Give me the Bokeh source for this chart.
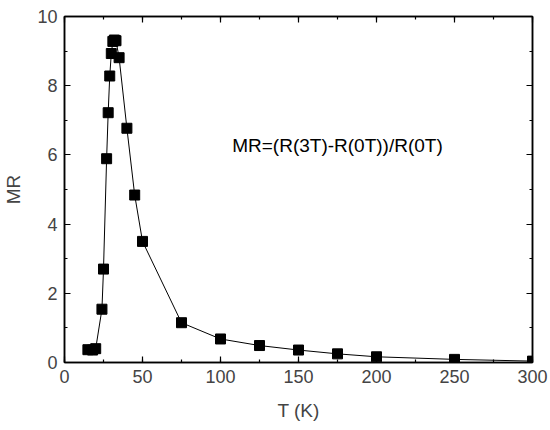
from bokeh.plotting import figure
from bokeh.models import LinearAxis, Range1d, Label, CustomLabelingPolicy
from bokeh.embed import file_html
from bokeh.resources import INLINE

T = [15, 18, 20, 24, 25, 27, 28, 29, 30, 31, 32, 33, 35, 40, 45, 50, 75, 100, 125, 150, 175, 200, 250, 300]
MR = [0.37, 0.36, 0.40, 1.54, 2.70, 5.89, 7.22, 8.28, 8.93, 9.28, 9.32, 9.30, 8.81, 6.77, 4.84, 3.50, 1.15, 0.68, 0.49, 0.36, 0.25, 0.165, 0.09, 0.04]

FONT = "Liberation Sans"

p = figure(frame_width=468, frame_height=346, output_backend="svg", toolbar_location=None,
           x_range=Range1d(0, 300), y_range=Range1d(0, 10),
           min_border_left=64, min_border_right=18, min_border_top=16, min_border_bottom=68,
           x_axis_label="T (K)", y_axis_label="MR")
p.grid.visible = False
p.outline_line_color = "black"
p.outline_line_width = 1.5
p.background_fill_color = "white"
p.border_fill_color = "white"

p.line(T, MR, line_color="black", line_width=1)
p.scatter(T, MR, marker="square", size=10, fill_color="black", line_color="black")

def style(ax):
    ax.axis_line_width = 1.5
    ax.major_tick_in = 6
    ax.major_tick_out = 0
    ax.minor_tick_in = 3
    ax.minor_tick_out = 0
    ax.major_tick_line_width = 1.2
    ax.minor_tick_line_width = 1.2
    ax.major_label_text_font = FONT
    ax.major_label_text_font_size = "18px"
    ax.axis_label_text_font = FONT
    ax.axis_label_text_font_size = "19px"
    ax.axis_label_text_font_style = "normal"

xa = p.xaxis[0]
ya = p.yaxis[0]
xa.ticker.desired_num_ticks = 6
xa.ticker.num_minor_ticks = 2
ya.ticker.num_minor_ticks = 2
style(xa)
style(ya)
xa.major_label_standoff = 7
ya.major_label_standoff = 7
xa.axis_label_standoff = 14
ya.axis_label_standoff = 10

hide = CustomLabelingPolicy(code="""
for (const i of Array.from(indices)) { indices.unset(i) }
return indices
""")
top = LinearAxis(major_label_policy=hide)
right = LinearAxis(major_label_policy=hide)
top.ticker.num_minor_ticks = 2
right.ticker.num_minor_ticks = 2
top.ticker.desired_num_ticks = 6
style(top)
style(right)
top.major_label_standoff = 0
right.major_label_standoff = 0
p.add_layout(top, "above")
p.add_layout(right, "right")

p.add_layout(Label(x=107.5, y=6.28, text="MR=(R(3T)-R(0T))/R(0T)", text_font=FONT,
                   text_font_size="19px", text_color="black", text_baseline="alphabetic"))

open("out.html", "w").write(file_html(p, INLINE))
